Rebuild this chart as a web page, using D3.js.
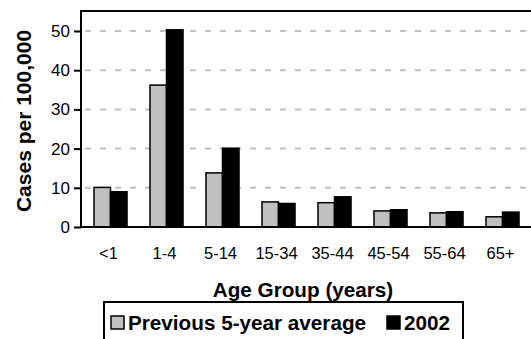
<!DOCTYPE html>
<html><head><meta charset="utf-8">
<script src="https://cdn.jsdelivr.net/npm/d3@7"></script>
<style>body{margin:0;background:#fff}svg{display:block;font-family:"Liberation Sans",Arial,sans-serif}</style>
</head><body><svg id="c" width="531" height="339"></svg>
<script>
const categories = ["<1","1-4","5-14","15-34","35-44","45-54","55-64","65+"];
const seriesNames = ["Previous 5-year average","2002"];
const prevAvg = [10.1,36.2,13.8,6.4,6.2,4.1,3.6,2.6];
const y2002 = [9.0,50.3,20.1,6.0,7.7,4.4,3.9,3.8];
const yTicks = [0,10,20,30,40,50];
const colors = ["#c0c0c0","#000000"];

const svg = d3.select("#c");
const L = 81, T = 11, B = 227, R = 532;
const x = d3.scaleBand().domain(categories).range([82.5, 530.5]).paddingInner(0.41).paddingOuter(0.205);
const xs = d3.scaleBand().domain(seriesNames).range([0, x.bandwidth()]);
const y = d3.scaleLinear().domain([0, 55.1]).range([B, T]);

// gridlines
svg.append("g").selectAll("line").data(yTicks.filter(d=>d>0)).join("line")
  .attr("x1", L+2).attr("x2", R).attr("y1", d=>y(d)).attr("y2", d=>y(d))
  .attr("stroke","#c0c0c0").attr("stroke-width",2).attr("stroke-dasharray","6,9").attr("stroke-dashoffset",-2);

// bars
const data = categories.map((c,i)=>({c, vals:[prevAvg[i], y2002[i]]}));
svg.append("g").selectAll("g").data(data).join("g")
  .attr("transform", d=>`translate(${x(d.c)},0)`)
  .selectAll("rect").data(d=>d.vals.map((v,j)=>({v, s:seriesNames[j], j}))).join("rect")
  .attr("x", d=>xs(d.s)).attr("width", xs.bandwidth())
  .attr("y", d=>y(d.v)).attr("height", d=>B - y(d.v))
  .attr("fill", d=>colors[d.j]).attr("stroke","#000").attr("stroke-width",1.5);

// plot frame (top, left, bottom)
svg.append("path").attr("d", `M${R},${T}H${L}V${B}H${R}`).attr("fill","none").attr("stroke","#000").attr("stroke-width",2);

// y axis
const ya = svg.append("g").attr("transform", `translate(${L},0)`)
  .call(d3.axisLeft(y).tickValues(yTicks).tickSize(7).tickPadding(4).tickFormat(d3.format("d")));
ya.select(".domain").remove();
ya.selectAll("line").attr("stroke","#000").attr("stroke-width",2);
ya.selectAll("text").attr("font-size",17).attr("fill","#000").attr("font-family","Liberation Sans, Arial, sans-serif");

// x axis labels
const xa = svg.append("g").attr("transform", `translate(-2,${B})`)
  .call(d3.axisBottom(x).tickSize(0).tickPadding(20));
xa.select(".domain").remove();
xa.selectAll("text").attr("font-size",16.5).attr("fill","#000").attr("font-family","Liberation Sans, Arial, sans-serif");

// axis titles
svg.append("text").attr("x", 303).attr("y", 297).attr("text-anchor","middle")
  .attr("font-size",20.7).attr("font-weight","bold").text("Age Group (years)");
svg.append("text").attr("transform","translate(31,121) rotate(-90)").attr("text-anchor","middle")
  .attr("font-size",21).attr("font-weight","bold").text("Cases per 100,000");

// legend
const lg = svg.append("g");
lg.append("rect").attr("x",104).attr("y",302).attr("width",359).attr("height",45)
  .attr("fill","#fff").attr("stroke","#000").attr("stroke-width",2);
const items = [{n:seriesNames[0], c:colors[0], x:111},{n:seriesNames[1], c:colors[1], x:387}];
items.forEach(it=>{
  lg.append("rect").attr("x",it.x).attr("y",316).attr("width",13).attr("height",13)
    .attr("fill",it.c).attr("stroke","#000").attr("stroke-width",1.5);
  lg.append("text").attr("x",it.x+17).attr("y",330).attr("font-size",20.7).attr("font-weight","bold").text(it.n);
});
</script></body></html>
